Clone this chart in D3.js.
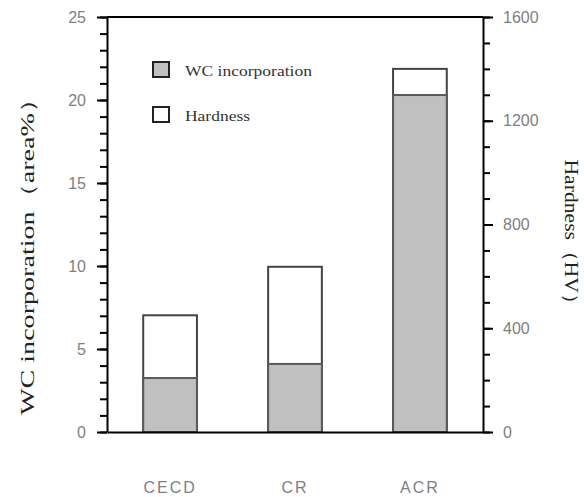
<!DOCTYPE html>
<html>
<head>
<meta charset="utf-8">
<script src="https://cdn.jsdelivr.net/npm/d3@7"></script>
<style>
  body { margin: 0; background: #fff; }
  .axis path, .axis line { stroke: #000; stroke-width: 2; }
  .axis text { font-family: "Liberation Sans", Arial, sans-serif; font-size: 16px; fill: #808080; }
  .serif { font-family: "Liberation Serif", "Times New Roman", serif; }
</style>
</head>
<body>
<svg id="chart"></svg>
<script>
// data
const categories = ["CECD", "CR", "ACR"];
const wcValues = [3.25, 4.1, 20.3];          // WC incorporation (area%), left axis
const hardnessValues = [450, 637, 1400];     // Hardness (HV), right axis
const leftTicks = [0, 5, 10, 15, 20, 25];
const rightTicks = [0, 400, 800, 1200, 1600];

class StackChart {

    constructor(_config) {
        this.config = {
            parentElement: _config.parentElement,
            containerWidth: 584,
            containerHeight: 497,
            margin: { top: 17, bottom: 65, right: 101, left: 107 }
        }
        this.initVis();
    }

    initVis() {
        let vis = this;

        vis.width = vis.config.containerWidth - vis.config.margin.left - vis.config.margin.right;
        vis.height = vis.config.containerHeight - vis.config.margin.top - vis.config.margin.bottom;

        vis.svg = d3.select(vis.config.parentElement)
            .attr('width', vis.config.containerWidth)
            .attr('height', vis.config.containerHeight);

        vis.chart = vis.svg.append('g')
            .attr('transform', `translate(${vis.config.margin.left},${vis.config.margin.top})`);

        vis.xScale = d3.scaleBand().domain(categories).range([0, vis.width])
            .paddingInner(0.57).paddingOuter(0.29);
        vis.yLeft = d3.scaleLinear().domain([0, 25]).range([vis.height, 0]);
        vis.yRight = d3.scaleLinear().domain([0, 1600]).range([vis.height, 0]);

        vis.renderVis();
    }

    renderVis() {
        let vis = this;

        // hardness bars (white, behind)
        vis.chart.selectAll('.hard-bar')
            .data(hardnessValues)
            .join('rect')
                .attr('class', 'hard-bar')
                .attr('x', (d, i) => vis.xScale(categories[i]))
                .attr('width', vis.xScale.bandwidth())
                .attr('y', d => vis.yRight(d))
                .attr('height', d => vis.height - vis.yRight(d))
                .attr('fill', '#fff')
                .attr('stroke', '#444')
                .attr('stroke-width', 2);

        // WC bars (grey, in front)
        vis.chart.selectAll('.wc-bar')
            .data(wcValues)
            .join('rect')
                .attr('class', 'wc-bar')
                .attr('x', (d, i) => vis.xScale(categories[i]))
                .attr('width', vis.xScale.bandwidth())
                .attr('y', d => vis.yLeft(d))
                .attr('height', d => vis.height - vis.yLeft(d))
                .attr('fill', '#c0c0c0')
                .attr('stroke', '#5a5a5a')
                .attr('stroke-width', 2);

        // left axis: minor + major ticks
        vis.chart.append('g').attr('class', 'axis')
            .call(d3.axisLeft(vis.yLeft).tickValues(d3.range(0, 26)).tickSize(7).tickFormat(''))
            .call(g => g.select('.domain').remove());
        vis.chart.append('g').attr('class', 'axis')
            .call(d3.axisLeft(vis.yLeft).tickValues(leftTicks).tickSize(10).tickPadding(11).tickSizeOuter(0));

        // right axis
        vis.chart.append('g').attr('class', 'axis')
            .attr('transform', `translate(${vis.width},0)`)
            .call(d3.axisRight(vis.yRight).tickValues(d3.range(0, 1601, 100)).tickSize(7).tickFormat(''))
            .call(g => g.select('.domain').remove());
        vis.chart.append('g').attr('class', 'axis')
            .attr('transform', `translate(${vis.width},0)`)
            .call(d3.axisRight(vis.yRight).tickValues(rightTicks).tickSize(10).tickPadding(10)
                .tickSizeOuter(0).tickFormat(d3.format('d')));

        // bottom axis line + labels
        let xAxisG = vis.chart.append('g').attr('class', 'axis')
            .attr('transform', `translate(0,${vis.height})`)
            .call(d3.axisBottom(vis.xScale).tickSize(0).tickPadding(50).tickSizeOuter(0));
        xAxisG.selectAll('text').attr('font-size', 16).style('letter-spacing', '2px');

        // top border
        vis.chart.append('line')
            .attr('x1', 0).attr('x2', vis.width)
            .attr('y1', 0).attr('y2', 0)
            .attr('stroke', '#000').attr('stroke-width', 2);

        // legend
        const legend = [
            { label: 'WC incorporation', fill: '#c0c0c0', y: 62, len: 127 },
            { label: 'Hardness', fill: '#fff', y: 107, len: 65 }
        ];
        let lg = vis.svg.append('g');
        lg.selectAll('rect').data(legend).join('rect')
            .attr('x', 153).attr('y', d => d.y)
            .attr('width', 16).attr('height', 15)
            .attr('fill', d => d.fill)
            .attr('stroke', '#222').attr('stroke-width', 2);
        lg.selectAll('text').data(legend).join('text')
            .attr('class', 'serif')
            .attr('x', 185).attr('y', d => d.y + 14)
            .attr('font-size', 14)
            .attr('fill', '#333')
            .attr('textLength', d => d.len)
            .attr('lengthAdjust', 'spacingAndGlyphs')
            .text(d => d.label);

        // axis titles
        vis.svg.append('text')
            .attr('class', 'serif')
            .attr('transform', 'translate(34,250) rotate(-90)')
            .attr('text-anchor', 'middle')
            .attr('font-size', 19)
            .attr('fill', '#222')
            .attr('textLength', 330)
            .attr('lengthAdjust', 'spacingAndGlyphs')
            .text('WC incorporation（area%）');

        vis.svg.append('text')
            .attr('class', 'serif')
            .attr('transform', 'translate(565,237) rotate(90)')
            .attr('text-anchor', 'middle')
            .attr('font-size', 18)
            .attr('fill', '#222')
            .attr('textLength', 155)
            .attr('lengthAdjust', 'spacingAndGlyphs')
            .text('Hardness（HV）');
    }
}

new StackChart({ parentElement: '#chart' });
</script>
</body>
</html>
